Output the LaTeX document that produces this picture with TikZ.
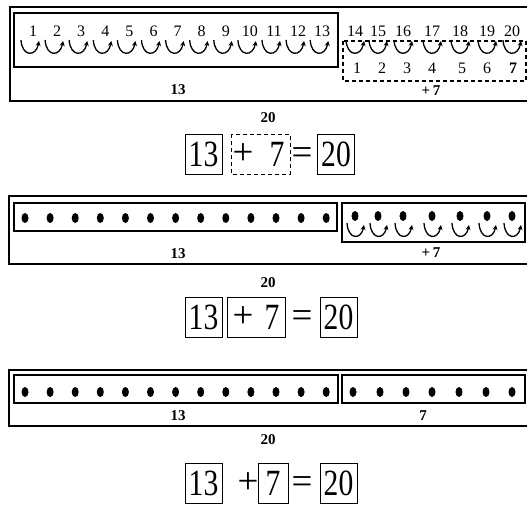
\documentclass[tikz,border=0pt]{standalone}
\usepackage{fontspec}
\setmainfont{Liberation Serif}
\usetikzlibrary{arrows.meta, calc, positioning}
\newcommand\narrowdigits[1]{\scalebox{0.8}[1]{#1}}
\tikzset{
  outerbox/.style={line width=1.4pt},
  innerbox/.style={line width=1.1pt},
  guessbox/.style={line width=1.1pt, dash pattern=on 4pt off 3pt},
  hop/.style={-{Stealth[length=5pt, width=5pt]}, line width=1.3pt},
  count/.style={font=\fontsize{16}{16}\selectfont, inner sep=0pt},
  total/.style={font=\fontsize{15}{15}\selectfont\bfseries, inner sep=0pt},
  eqbox/.style={draw, line width=0.9pt, minimum width=37pt, minimum height=40pt, inner sep=0pt, font=\fontsize{37}{37}\selectfont},
  eqsign/.style={font=\fontsize{37}{37}\selectfont, inner sep=0pt, anchor=base},
}

\begin{document}
\begin{tikzpicture}[x=1pt, y=-1pt]
\useasboundingbox (0,0) rectangle (527,504);

% Counting on, row 1
\draw[outerbox] (10,7) rectangle (528,101);
\draw[innerbox] (14,13) rectangle (338,67);
\draw[guessbox] (343,41) rectangle (526,81);
\foreach \i in {1,...,13} {
  \node[count] (top\i) at ({33+24.1*(\i-1)},31) {\i};
  \coordinate (hp\i) at ({30+24.1*(\i-1)},47);
  \draw[hop] ($(hp\i)+(-9,-7)$) .. controls ($(hp\i)+(-8,10)$) and ($(hp\i)+(6,10)$) .. ($(hp\i)+(9,-6)$);
}
\foreach \x [count=\j from 1, evaluate=\j as \k using int(\j+13)] in {355,378,403,432,460,487,512} {
  \node[count] (top\k) at (\x,31) {\k};
  \coordinate (hq\j) at (\x,47);
  \draw[hop] ($(hq\j)+(-9,-7)$) .. controls ($(hq\j)+(-8,10)$) and ($(hq\j)+(6,10)$) .. ($(hq\j)+(9,-6)$);
}
\foreach \x [count=\j] in {357,382,407,432,462,487} {
  \node[count] (add\j) at (\x,68) {\j};
}
\node[count, font=\fontsize{16}{16}\selectfont\bfseries] (add7) at (513,68) {7};
\node[total] (firstA) at (178,90) {13};
\node[total] (plusA) at (431,91) {+\,7};
\node[total] (sumA) at (268,118) {20};

% Equation 1
\node[eqbox] (aA) at (203.5,154) {\narrowdigits{13}};
\draw[guessbox, line width=0.9pt] (231,134) rectangle (290,174);
\node[eqsign] (opA) at (243,164) {+};
\node[eqsign] (bA) at (277,166) {\narrowdigits{7}};
\node[eqsign] (isA) at (302,164) {=};
\node[eqbox] (cA) at (336,154) {\narrowdigits{20}};

% Counting on with beads, row 2
\draw[outerbox] (9,196) rectangle (528,264);
\draw[innerbox] (14,203) rectangle (337,231);
\draw[innerbox] (342,203) rectangle (525,242);
\foreach \i in {1,...,13} {
  \fill ({25+25.1*(\i-1)},218) ellipse (3.5 and 5);
}
\foreach \x in {355,378,403,432,460,487,512} {
  \fill (\x,216) ellipse (3.5 and 5);
  \coordinate (hb) at (\x,230);
  \draw[hop] ($(hb)+(-8,-7)$) .. controls ($(hb)+(-7,10)$) and ($(hb)+(6,10)$) .. ($(hb)+(9,-5)$);
}
\node[total] (firstB) at (178,254) {13};
\node[total] (plusB) at (431,253) {+\,7};
\node[total] (sumB) at (268,283) {20};

% Equation 2
\node[eqbox] (aB) at (203.5,317) {\narrowdigits{13}};
\node[eqbox, minimum width=58pt] (bB) at (256,317) {};
\node[eqsign] (opB) at (243,327) {+};
\node[eqsign] (sevB) at (272,329) {\narrowdigits{7}};
\node[eqsign] (isB) at (302,327) {=};
\node[eqbox] (cB) at (338.5,317) {\narrowdigits{20}};

% Beads, row 3
\draw[outerbox] (9,370) rectangle (528,426);
\draw[innerbox] (14,375) rectangle (338,403);
\draw[innerbox] (342,375) rectangle (525,403);
\foreach \i in {1,...,13} {
  \fill ({25+25.1*(\i-1)},392) ellipse (3.5 and 5);
}
\foreach \x in {353,380,406,432,459,486,512} {
  \fill (\x,392) ellipse (3.5 and 5);
}
\node[total] (firstC) at (178,416) {13};
\node[total] (plusC) at (423,416) {7};
\node[total] (sumC) at (268,440) {20};

% Equation 3
\node[eqbox] (aC) at (203.5,483) {\narrowdigits{13}};
\node[eqsign] (opC) at (248,493) {+};
\node[eqbox, minimum width=30pt] (bC) at (273,483) {\narrowdigits{7}};
\node[eqsign] (isC) at (302,493) {=};
\node[eqbox] (cC) at (338.5,483) {\narrowdigits{20}};
\end{tikzpicture}
\end{document}
